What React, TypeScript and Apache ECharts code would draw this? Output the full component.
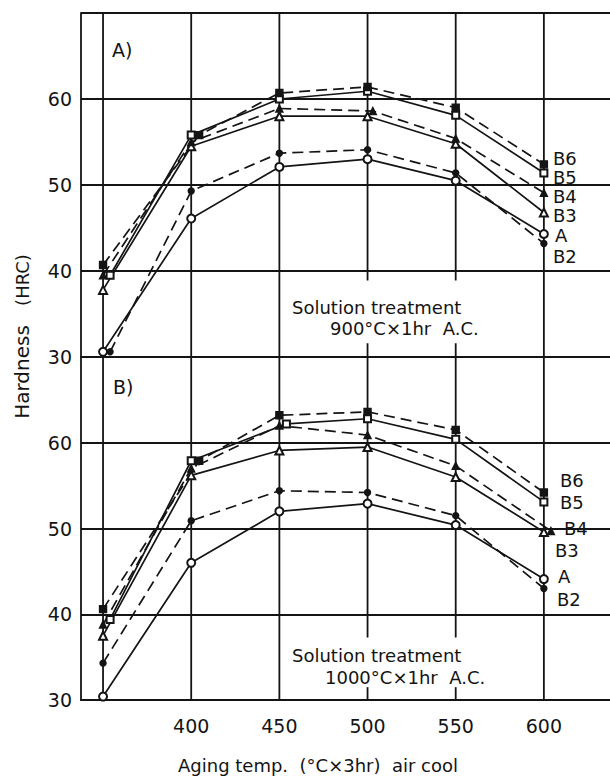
import React, { useEffect, useRef } from "react";
import * as echarts from "echarts";

// ---------- data ----------
const SERIES_NAMES = ["A", "B2", "B3", "B4", "B5", "B6"];
const X_LABEL_TICKS = [400, 450, 500, 550, 600];
const X_GRID_TICKS = [350, 400, 450, 500, 550, 600];
const Y_TICKS = [30, 40, 50, 60, 70];
// vertical grid lines that stop around the annotation text: [x, gapTop, gapBottom] (data units)
const PANEL_A_GAPS: [number, number, number][] = [
  [500, 38.9, 31.6],
  [550, 38.9, 31.6],
];
const PANEL_B_GAPS: [number, number, number][] = [
  [500, 37.3, 31.5],
  [550, 37.3, 31.5],
];

// Panel A) : solution treatment 900°C x 1hr A.C.
const panelA_x_A = [350, 400, 450, 500, 550, 600];
const panelA_x_B2 = [354, 400, 450, 500, 550, 600];
const panelA_x_B3 = [350, 400, 450, 500, 550, 600];
const panelA_x_B4 = [350, 400, 450, 503, 550, 600];
const panelA_x_B5 = [354, 400, 450, 500, 550, 600];
const panelA_x_B6 = [350, 404.5, 450, 500, 550, 600];
const panelA_A = [30.6, 46.1, 52.1, 53.0, 50.5, 44.3];
const panelA_B2 = [30.6, 49.3, 53.7, 54.1, 51.4, 43.2];
const panelA_B3 = [37.8, 54.5, 58.0, 58.0, 54.8, 46.8];
const panelA_B4 = [39.5, 55.0, 58.9, 58.6, 55.4, 49.1];
const panelA_B5 = [39.5, 55.8, 60.0, 60.9, 58.1, 51.4];
const panelA_B6 = [40.7, 55.8, 60.7, 61.4, 59.0, 52.4];

// Panel B) : solution treatment 1000°C x 1hr A.C.
const panelB_x_A = [350, 400, 450, 500, 550, 600];
const panelB_x_B2 = [350, 400, 450, 500, 550, 600];
const panelB_x_B3 = [350, 400, 450, 500, 550, 600];
const panelB_x_B4 = [350, 400, 450, 500, 550, 604];
const panelB_x_B5 = [354, 400, 454, 500, 550, 600];
const panelB_x_B6 = [350, 404.5, 450, 500, 550, 600];
const panelB_A = [30.4, 46.0, 52.0, 52.9, 50.4, 44.1];
const panelB_B2 = [34.3, 50.9, 54.4, 54.2, 51.5, 43.0];
const panelB_B3 = [37.5, 56.2, 59.1, 59.5, 56.0, 49.6];
const panelB_B4 = [38.8, 57.0, 62.0, 60.9, 57.3, 49.7];
const panelB_B5 = [39.4, 57.9, 62.2, 62.8, 60.4, 53.1];
const panelB_B6 = [40.6, 57.9, 63.2, 63.6, 61.5, 54.2];

const PANEL_A_X = [panelA_x_A, panelA_x_B2, panelA_x_B3, panelA_x_B4, panelA_x_B5, panelA_x_B6];
const PANEL_A_Y = [panelA_A, panelA_B2, panelA_B3, panelA_B4, panelA_B5, panelA_B6];
const PANEL_B_X = [panelB_x_A, panelB_x_B2, panelB_x_B3, panelB_x_B4, panelB_x_B5, panelB_x_B6];
const PANEL_B_Y = [panelB_A, panelB_B2, panelB_B3, panelB_B4, panelB_B5, panelB_B6];

// ---------- styles ----------
const INK = "#141414";
const FONT = "DejaVu Sans";
const STYLE: Record<string, { dashed: boolean; symbol: string; size: number }> = {
  A: { dashed: false, symbol: "emptyCircle", size: 8 },
  B2: { dashed: true, symbol: "circle", size: 6 },
  B3: { dashed: false, symbol: "emptyTriangle", size: 8 },
  B4: { dashed: true, symbol: "triangle", size: 7 },
  B5: { dashed: false, symbol: "emptyRect", size: 7 },
  B6: { dashed: true, symbol: "rect", size: 7 },
};

function verticalSegments(gaps: [number, number, number][]): number[][][] {
  const yMin = Y_TICKS[0];
  const yMax = Y_TICKS[Y_TICKS.length - 1];
  const segs: number[][][] = [];
  X_GRID_TICKS.forEach((x) => {
    const g = gaps.find((d) => d[0] === x);
    if (g) {
      segs.push([[x, yMax], [x, g[1]]]);
      segs.push([[x, g[2]], [x, yMin]]);
    } else {
      segs.push([[x, yMax], [x, yMin]]);
    }
  });
  return segs;
}

function buildSeries(gridIdx: number, xs: number[][], ys: number[][], gaps: [number, number, number][]) {
  const out: any[] = verticalSegments(gaps).map((seg, j) => ({
    type: "line",
    name: "grid-v-" + gridIdx + "-" + j,
    xAxisIndex: gridIdx,
    yAxisIndex: gridIdx,
    data: seg,
    symbol: "none",
    silent: true,
    z: 1,
    lineStyle: { color: INK, width: 1.8, type: "solid" },
  }));
  SERIES_NAMES.forEach((name, k) => {
    const st = STYLE[name];
    out.push({
      type: "line",
      name: name + (gridIdx === 0 ? " (A)" : " (B)"),
      xAxisIndex: gridIdx,
      yAxisIndex: gridIdx,
      data: xs[k].map((x, i) => [x, ys[k][i]]),
      symbol: st.symbol,
      symbolSize: st.size,
      showAllSymbol: true,
      z: 5,
      lineStyle: { color: INK, width: 1.7, type: st.dashed ? [11, 6] : "solid" },
      itemStyle: { color: INK, borderColor: INK, borderWidth: 1.4 },
    });
  });
  return out;
}

const SERIES_LABELS_A: [string, number, number][] = [
  ["B6", 553, 158],
  ["B5", 553, 177],
  ["B4", 553, 196],
  ["B3", 553, 215],
  ["A", 555, 235],
  ["B2", 553, 256],
];
const SERIES_LABELS_B: [string, number, number][] = [
  ["B6", 560, 480],
  ["B5", 560, 502],
  ["B4", 564, 528],
  ["B3", 555, 550],
  ["A", 558, 576],
  ["B2", 557, 599],
];

function txt(text: string, x: number, y: number, size: number, align = "left", rotation = 0) {
  return {
    type: "text",
    x,
    y,
    rotation,
    z: 10,
    style: {
      text,
      fill: INK,
      font: `${size}px "${FONT}"`,
      lineHeight: size,
      textAlign: align,
      textVerticalAlign: "middle",
    },
  };
}

export default function App() {
  const ref = useRef<HTMLDivElement>(null);
  useEffect(() => {
    if (!ref.current) return;
    const chart = echarts.init(ref.current, null, { renderer: "svg" });
    const axisLine = { color: INK, width: 1.8 };
    const option: any = {
      animation: false,
      backgroundColor: "#ffffff",
      textStyle: { fontFamily: FONT },
      grid: [
        { left: 81, top: 13, width: 529, height: 344 },
        { left: 81, top: 357, width: 529, height: 343 },
      ],
      xAxis: [0, 1].map((i) => ({
        type: "value",
        gridIndex: i,
        min: 337.5,
        max: 637.5,
        interval: 12.5,
        axisLine: { show: i === 1, lineStyle: axisLine },
        axisTick: { show: false },
        splitLine: { show: false },
        axisLabel: {
          show: i === 1,
          color: INK,
          fontSize: 19,
          fontFamily: FONT,
          margin: 16,
          showMinLabel: false,
          showMaxLabel: false,
          formatter: (v: number) => (X_LABEL_TICKS.indexOf(v) >= 0 ? String(v) : ""),
        },
      })),
      yAxis: [0, 1].map((i) => ({
        type: "value",
        gridIndex: i,
        min: Y_TICKS[0],
        max: Y_TICKS[Y_TICKS.length - 1],
        interval: 10,
        axisLine: { show: true, onZero: false, lineStyle: axisLine },
        axisTick: { show: false },
        splitLine: { show: true, lineStyle: { color: INK, width: 1.8 } },
        axisLabel: {
          color: INK,
          fontSize: 19,
          fontFamily: FONT,
          margin: 9,
          formatter: (v: number) => (v === 70 ? "" : String(v)),
        },
      })),
      series: [
        ...buildSeries(0, PANEL_A_X, PANEL_A_Y, PANEL_A_GAPS),
        ...buildSeries(1, PANEL_B_X, PANEL_B_Y, PANEL_B_GAPS),
      ],
      graphic: [
        txt("A)", 112, 50, 19),
        txt("B)", 113, 387, 19),
        txt("Solution treatment", 292, 307, 18),
        txt("900°C×1hr  A.C.", 330, 328, 18),
        txt("Solution treatment", 292, 655, 18),
        txt("1000°C×1hr  A.C.", 325, 677, 18),
        ...SERIES_LABELS_A.map(([t, x, y]) => txt(t, x, y, 18)),
        ...SERIES_LABELS_B.map(([t, x, y]) => txt(t, x, y, 18)),
        txt("Hardness", 22, 372, 20, "center", Math.PI / 2),
        txt("(HRC)", 22, 280, 18, "center", Math.PI / 2),
        txt("Aging temp.  (°C×3hr)  air cool", 318, 765, 18, "center"),
      ],
    };
    chart.setOption(option);
    return () => chart.dispose();
  }, []);
  return (
    <div
      ref={ref}
      style={{ position: "absolute", left: 0, top: 0, width: 610, height: 776 }}
    />
  );
}
